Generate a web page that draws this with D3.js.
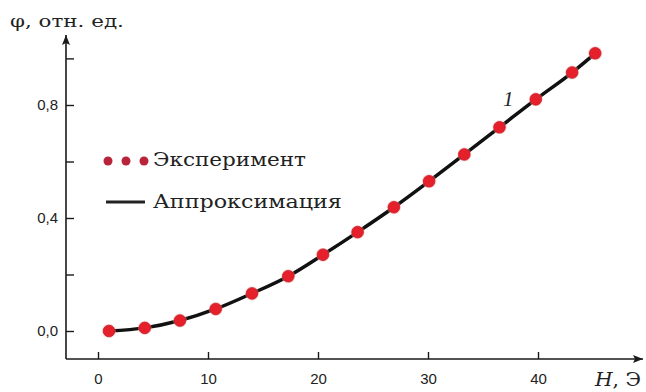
<!DOCTYPE html>
<html>
<head>
<meta charset="utf-8">
<script src="https://cdn.jsdelivr.net/npm/d3@7"></script>
<style>
  html, body { margin: 0; padding: 0; background: #ffffff; }
  svg { display: block; }
</style>
</head>
<body>
<svg id="chart" width="646" height="392"></svg>
<script>
// Magnetic field H (Oe) and relative response φ
const fieldH = [1.0, 4.25, 7.45, 10.7, 14.0, 17.3, 20.45, 23.6, 26.9, 30.1, 33.3, 36.5, 39.8, 43.1, 45.2];
const phiValues = [0.0, 0.011, 0.037, 0.078, 0.133, 0.194, 0.270, 0.350, 0.438, 0.530, 0.625, 0.721, 0.820, 0.915, 0.983];

const xTicks = [0, 10, 20, 30, 40];
const yTicks = [0, 0.2, 0.4, 0.6, 0.8, 0.965];
const yLabelled = [0, 0.4, 0.8];

const legendItems = ["Эксперимент", "Аппроксимация"];
const yTitle = "φ, отн. ед.";
const curveLabel = "1";

const svg = d3.select("#chart");

const x = d3.scaleLinear().domain([0, 40]).range([98, 538]);
const y = d3.scaleLinear().domain([0, 0.8]).range([331, 105]);

const axisX0 = 66, axisY0 = 359;
const xEnd = 643, yEnd = 35;
const serif = "'DejaVu Serif', serif";

// stretch a text horizontally so its glyphs span the given width
function stretchTo(sel, width) {
  const node = sel.node();
  const w = node.getComputedTextLength();
  const x0 = +sel.attr("x");
  const k = width / w;
  sel.attr("transform", `translate(${x0},0) scale(${k},1) translate(${-x0},0)`);
}

// arrowheads
const defs = svg.append("defs");
defs.append("marker")
  .attr("id", "arrow")
  .attr("viewBox", "0 0 10 8")
  .attr("refX", 10).attr("refY", 4)
  .attr("markerWidth", 10).attr("markerHeight", 8)
  .attr("markerUnits", "userSpaceOnUse")
  .attr("orient", "auto")
  .append("path").attr("d", "M0,0 L10,4 L0,8 L2,4 Z").attr("fill", "#1a1a1a");

// axes lines
svg.append("line")
  .attr("x1", axisX0).attr("y1", axisY0).attr("x2", xEnd).attr("y2", axisY0)
  .attr("stroke", "#1a1a1a").attr("stroke-width", 1.6).attr("marker-end", "url(#arrow)");
svg.append("line")
  .attr("x1", axisX0).attr("y1", axisY0).attr("x2", axisX0).attr("y2", yEnd)
  .attr("stroke", "#1a1a1a").attr("stroke-width", 1.6).attr("marker-end", "url(#arrow)");

// x ticks (drawn upward from the axis)
const xAxis = d3.axisBottom(x).tickValues(xTicks).tickSize(-7).tickPadding(14)
  .tickFormat(d => d3.format("d")(d));
const gx = svg.append("g").attr("transform", `translate(0,${axisY0})`).call(xAxis);
gx.select(".domain").remove();
gx.selectAll(".tick line").attr("stroke", "#1a1a1a").attr("stroke-width", 1.4);
gx.selectAll(".tick text")
  .attr("font-family", "'Liberation Sans', Arial, sans-serif")
  .attr("font-size", 15).attr("fill", "#222");

// y ticks (drawn rightward from the axis)
const yAxis = d3.axisLeft(y).tickValues(yTicks).tickSize(-8).tickPadding(8)
  .tickFormat(d => yLabelled.includes(d) ? d3.format(".1f")(d).replace(".", ",") : "");
const gy = svg.append("g").attr("transform", `translate(${axisX0},0)`).call(yAxis);
gy.select(".domain").remove();
gy.selectAll(".tick line").attr("stroke", "#1a1a1a").attr("stroke-width", 1.4);
gy.selectAll(".tick text")
  .attr("font-family", "'Liberation Sans', Arial, sans-serif")
  .attr("font-size", 15).attr("fill", "#222");

// axis titles
const yT = svg.append("text")
  .attr("x", 10).attr("y", 27)
  .attr("font-family", serif)
  .attr("font-size", 17).attr("fill", "#222")
  .text(yTitle);
stretchTo(yT, 114);

const hTitle = svg.append("text")
  .attr("x", 595).attr("y", 386)
  .attr("font-family", serif)
  .attr("font-size", 18).attr("fill", "#222");
hTitle.append("tspan").attr("font-style", "italic").text("H");
hTitle.append("tspan").text(", Э");
stretchTo(hTitle, 46);

// data
const points = fieldH.map((h, i) => [h, phiValues[i]]);

const line = d3.line()
  .x(d => x(d[0])).y(d => y(d[1]))
  .curve(d3.curveMonotoneX);

svg.append("path")
  .datum(points)
  .attr("d", line)
  .attr("fill", "none")
  .attr("stroke", "#111")
  .attr("stroke-width", 3.5);

// soft halo under markers
svg.append("g").selectAll("circle.halo")
  .data(points).join("circle")
  .attr("cx", d => x(d[0])).attr("cy", d => y(d[1]))
  .attr("r", 7).attr("fill", "#f3a3a3").attr("opacity", 0.45);

svg.append("g").selectAll("circle.pt")
  .data(points).join("circle")
  .attr("cx", d => x(d[0])).attr("cy", d => y(d[1]))
  .attr("r", 5.8).attr("fill", "#e5202b")
  .attr("stroke", "#c81825").attr("stroke-width", 0.8);

// curve number
svg.append("text")
  .attr("x", 503).attr("y", 106)
  .attr("font-family", "'Liberation Serif', serif")
  .attr("font-style", "italic")
  .attr("font-size", 21).attr("fill", "#222")
  .text(curveLabel);

// legend
const legend = svg.append("g");
legend.selectAll("circle")
  .data([108, 126, 144]).join("circle")
  .attr("cx", d => d).attr("cy", 161)
  .attr("r", 4.5).attr("fill", "#b8243a");
const lt1 = legend.append("text")
  .attr("x", 153).attr("y", 166)
  .attr("font-family", serif)
  .attr("font-size", 19).attr("fill", "#222")
  .text(legendItems[0]);
stretchTo(lt1, 153);
legend.append("line")
  .attr("x1", 106).attr("x2", 145).attr("y1", 202).attr("y2", 202)
  .attr("stroke", "#222").attr("stroke-width", 3);
const lt2 = legend.append("text")
  .attr("x", 153).attr("y", 208)
  .attr("font-family", serif)
  .attr("font-size", 19).attr("fill", "#222")
  .text(legendItems[1]);
stretchTo(lt2, 189);
</script>
</body>
</html>
